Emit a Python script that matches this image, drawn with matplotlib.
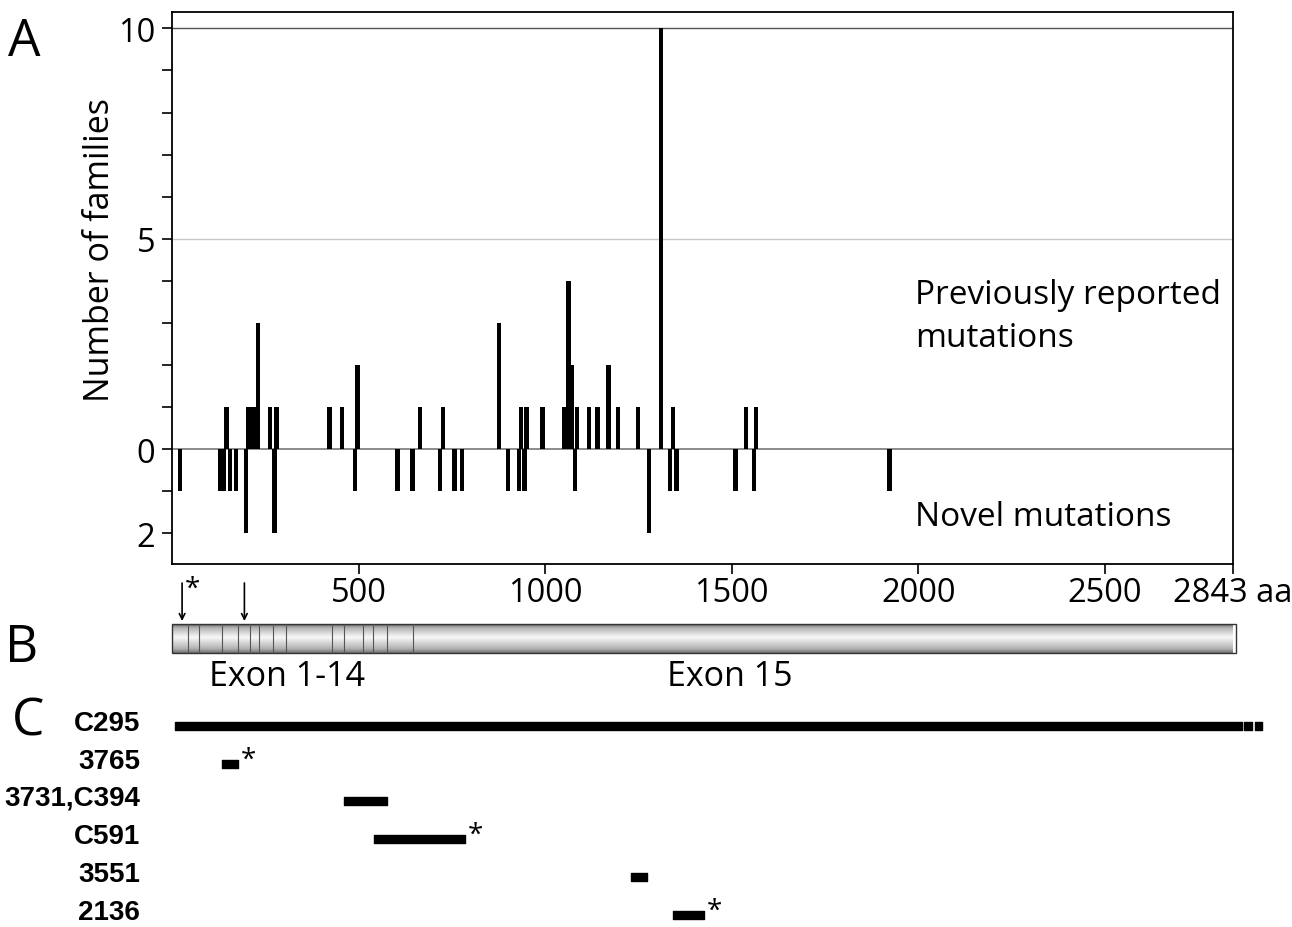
import numpy as np
import matplotlib
matplotlib.use("Agg")
import matplotlib.pyplot as plt
from matplotlib.patches import Rectangle

plt.rcParams['font.family'] = ['Open Sans', 'DejaVu Sans']

# panel A: mutation positions (aa) and number of families
prev_pos = [146, 205, 218, 230, 262, 280, 422, 455, 497, 665, 726, 876, 935, 950,
            993, 1052, 1062, 1070, 1085, 1117, 1140, 1170, 1195, 1248, 1310, 1342,
            1538, 1565]
prev_cnt = [1, 1, 1, 3, 1, 1, 1, 1, 2, 1, 1, 3, 1, 1,
            1, 1, 4, 2, 1, 1, 1, 2, 1, 1, 10, 1,
            1, 1]
novel_pos = [21, 130, 140, 155, 172, 198, 275, 490, 604, 644, 718, 757, 777, 900,
             930, 945, 1080, 1278, 1335, 1352, 1510, 1560, 1922]
novel_cnt = [1, 1, 1, 1, 1, 2, 2, 1, 1, 1, 1, 1, 1, 1,
             1, 1, 1, 2, 1, 1, 1, 1, 1]
protein_len = 2843

# panel B: exon boundaries (aa) and arrows
exon_bounds = [43, 73, 134, 177, 210, 234, 271, 306, 430, 462, 511, 538, 575, 645]
arrow_pos = [27, 194]

# panel C: deletion extents (aa)
c_labels = ["C295", "3765", "3731,C394", "C591", "3551", "2136"]
c_start = [8, 134, 462, 540, 1229, 1342]
c_end = [2867, 177, 575, 785, 1272, 1425]
c_star = [False, True, False, True, False, True]

W, H = 1292, 928
fig = plt.figure(figsize=(W / 100, H / 100), dpi=100)

# ---------- panel A ----------
ax = fig.add_axes([172 / W, 1 - 565 / H, 1061 / W, (565 - 13) / H])
ax.axhline(10, color='#555555', lw=1.0, zorder=1)
ax.axhline(5, color='#c8c8c8', lw=1.0, zorder=1)
ax.axhline(0, color='#777777', lw=1.2, zorder=1)
ax.bar(prev_pos, prev_cnt, width=12, color='black', zorder=3)
ax.bar(novel_pos, [-c for c in novel_cnt], width=12, color='black', zorder=3)

ax.set_xlim(0, protein_len)
ax.set_ylim(-2.73, 10.39)
ax.set_yticks(range(-2, 11))
ax.set_yticklabels(['2', '', '0', '', '', '', '', '5', '', '', '', '', '10'])
ax.set_xticks([500, 1000, 1500, 2000, 2500, protein_len])
ax.set_xticklabels(['500', '1000', '1500', '2000', '2500', '2843 aa'])
ax.tick_params(axis='both', labelsize=23.5, length=7, width=1.2)
ax.tick_params(axis='y', pad=5)
ax.tick_params(axis='x', pad=2)
for s in ax.spines.values():
    s.set_linewidth(1.3)

ax.set_ylabel("Number of families", fontsize=24.5)
ax.yaxis.set_label_coords(-0.052, 0.57)

ax.text(1991, 3.68, "Previously reported", fontsize=24, va='center', ha='left')
ax.text(1991, 2.66, "mutations", fontsize=24, va='center', ha='left')
ax.text(1991, -1.59, "Novel mutations", fontsize=24, va='center', ha='left')

# ---------- panels B and C (y in pixel rows) ----------
ax2 = fig.add_axes([172 / W, 0, 1061 / W, (H - 575) / H])
shade = np.interp(np.linspace(0, 1, 60), [0, 0.12, 0.45, 0.85, 1],
                  [0.4, 0.7, 0.97, 0.7, 0.45])
ax2.imshow(shade[:, None], cmap='gray', vmin=0, vmax=1, aspect='auto',
           extent=(0, 2850, 654, 625), interpolation='bilinear')
ax2.add_patch(Rectangle((0, 625), 2850, 29, fill=False, lw=1.0, ec='#333333',
                        clip_on=False))
ax2.vlines(exon_bounds, 625, 654, color='#555555', lw=0.8)
for p in arrow_pos:
    ax2.annotate('', xy=(p, 622), xytext=(p, 584),
                 arrowprops=dict(arrowstyle='->', lw=1.2, color='black',
                                 shrinkA=0, shrinkB=0))
ax2.text(55, 590, '*', fontsize=20, ha='center', va='center')
ax2.text(308, 677, "Exon 1-14", fontsize=24.5, ha='center', va='center')
ax2.text(1495, 677, "Exon 15", fontsize=24.5, ha='center', va='center')

rows = [727, 765, 802, 840, 878, 916]
for lab, a, b, star, y in zip(c_labels, c_start, c_end, c_star, rows):
    ax2.broken_barh([(a, b - a)], (y - 4, 8), color='black', clip_on=False)
    ax2.text(-86, y - 3, lab, fontsize=20, fontweight='bold', ha='right',
             va='center', family=['Liberation Sans', 'DejaVu Sans'], clip_on=False)
    if star:
        ax2.text(b + 8, y - 4, '*', fontsize=20, ha='left', va='center')
# continuation marks on the full-length row
ax2.broken_barh([(2873, 21), (2902, 19)], (rows[0] - 4, 8), color='black',
                clip_on=False)

ax2.set_xlim(0, protein_len)
ax2.set_ylim(H, 575)
ax2.axis('off')

# panel letters
fig.text(24 / W, 1 - 42 / H, "A", fontsize=37, ha='center', va='center')
fig.text(22 / W, 1 - 648 / H, "B", fontsize=37, ha='center', va='center')
fig.text(28 / W, 1 - 722 / H, "C", fontsize=37, ha='center', va='center')

fig.savefig("out.png", dpi=100)
